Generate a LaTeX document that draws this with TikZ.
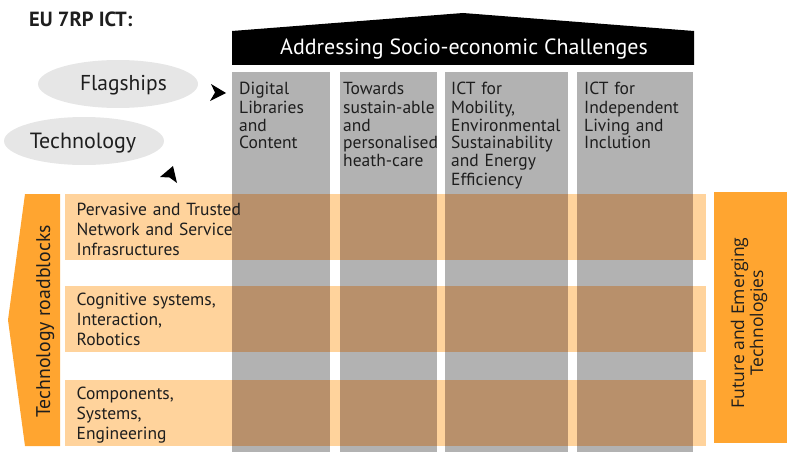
\documentclass[tikz,border=0pt]{standalone}
\usepackage{fontspec}
\setmainfont{PT Sans}
\newfontfamily\opensans{Open Sans}
\usetikzlibrary{shapes.geometric}
\definecolor{colgray}{HTML}{B2B2B2}
\definecolor{rowor}{HTML}{FFD39C}
\definecolor{overlap}{HTML}{B8906B}
\definecolor{orangebar}{HTML}{FFA530}
\definecolor{ellgray}{HTML}{E6E6E6}
\definecolor{txt}{HTML}{1E1E1E}
\begin{document}
\begin{tikzpicture}[x=1pt,y=-1pt,
  coltext/.style={anchor=base west,inner sep=0pt,text width=140pt,align=left,text=txt,font=\fontsize{17.5}{18}\selectfont},
  rowtext/.style={anchor=base west,inner sep=0pt,text width=220pt,align=left,text=txt,font=\fontsize{17.5}{20}\selectfont},
  ell/.style={fill=ellgray,draw=none,ellipse,minimum width=160pt,minimum height=48pt,inner sep=0pt},
  colbox/.style={fill=colgray},
  rowbox/.style={fill=rowor},
  ovbox/.style={fill=overlap},
  tip/.style={fill=black}]
\useasboundingbox (0,0) rectangle (787,452);

% title
\node[anchor=base west,inner sep=0pt,text=txt,font=\fontsize{20.5}{22}\selectfont\bfseries] (title) at (29,27) {EU 7RP ICT:};

% roof banner
\fill[black] (232,31) -- (463,13) -- (694,31) -- (694,65) -- (232,65) -- cycle;
\node[anchor=base,inner sep=0pt,text=white,font=\fontsize{22}{24}\selectfont] (banner) at (464,54.3) {Addressing Socio-economic Challenges};

% columns
\fill[colbox] (232,72) rectangle (330,452);
\fill[colbox] (340,72) rectangle (437,452);
\fill[colbox] (445,72) rectangle (568,452);
\fill[colbox] (577,72) rectangle (693,452);

% rows
\foreach \ya/\yb in {194/260,286/352,380/446}{
  \fill[rowbox] (65,\ya) rectangle (706,\yb);
  \foreach \xa/\xb in {232/330,340/437,445/568,577/693}{
    \fill[ovbox] (\xa,\ya) rectangle (\xb,\yb);
  }
}

% left roadblocks bar
\fill[orangebar] (25,194) -- (60,194) -- (60,446) -- (25,446) -- (8,320) -- cycle;
\node[anchor=base,rotate=90,inner sep=0pt,text=txt,font=\fontsize{19.8}{22}\selectfont] (roadblocks) at (50,321.5) {Technology roadblocks};

% right FET box
\fill[orangebar] (714,192) rectangle (787,443);
\node[rotate=90,inner sep=0pt,align=center,text=txt,font=\opensans\fontsize{17.5}{19}\selectfont] (fet) at (749,323) {Future and Emerging\\Technologies};

% ellipses
\node[ell] (flag) at (118,84) {};
\node[ell] (tech) at (84,141) {};
\node[anchor=base,inner sep=0pt,text=txt,font=\fontsize{21.5}{24}\selectfont] (flagt) at (123.5,91) {Flagships};
\node[anchor=base,inner sep=0pt,text=txt,font=\fontsize{22}{24}\selectfont] (techt) at (83,148) {Technology};

% arrowheads
\fill[tip] (211,84) -- (226,93) -- (210,101) -- (215,92.5) -- cycle;
\fill[tip] (160,177) -- (173,166) -- (177,183) -- (169.5,177.5) -- cycle;

% column texts
\node[coltext] (c1) at (239,95) {Digital\\Libraries\\and\\Content};
\node[coltext] (c2) at (343,95) {Towards\\sustain-able\\and\\personalised\\heath-care};
\node[coltext] (c3) at (451,95) {ICT for\\Mobility,\\Environmental\\Sustainability\\and Energy\\Efficiency};
\node[coltext] (c4) at (584,95) {ICT for\\Independent\\Living and\\Inclution};

% row texts
\node[rowtext] (r1) at (76.5,215) {Pervasive and Trusted\\Network and Service\\Infrasructures};
\node[rowtext] (r2) at (76.5,305.5) {Cognitive systems,\\Interaction,\\Robotics};
\node[rowtext] (r3) at (76.5,399.5) {Components,\\Systems,\\Engineering};
\end{tikzpicture}
\end{document}
